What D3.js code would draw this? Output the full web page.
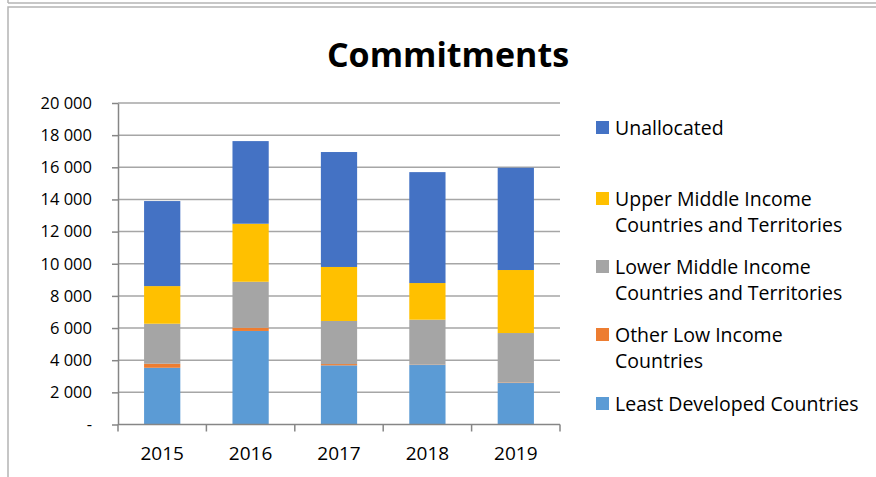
<!DOCTYPE html>
<html>
<head>
<meta charset="utf-8">
<script src="https://cdn.jsdelivr.net/npm/d3@7"></script>
<style>
    body { margin: 0; background: #fff; }
    svg { display: block; font-family: "Open Sans", sans-serif; }
</style>
</head>
<body>
<div id="chart"></div>
<script>
// chart data
const years = ['2015', '2016', '2017', '2018', '2019'];
const seriesNames = [
    'Least Developed Countries',
    'Other Low Income Countries',
    'Lower Middle Income Countries and Territories',
    'Upper Middle Income Countries and Territories',
    'Unallocated'
];
const leastDeveloped = [3530, 5820, 3680, 3700, 2580];
const otherLowIncome = [250, 200, 80, 20, 30];
const lowerMiddle = [2490, 2860, 2680, 2800, 3080];
const upperMiddle = [2340, 3610, 3360, 2280, 3920];
const unallocated = [5290, 5140, 7150, 6900, 6360];
const yTickValues = [0, 2000, 4000, 6000, 8000, 10000, 12000, 14000, 16000, 18000, 20000];
const yTickLabels = ['-', '2 000', '4 000', '6 000', '8 000', '10 000', '12 000', '14 000', '16 000', '18 000', '20 000'];

const colors = ['#5B9BD5', '#ED7D31', '#A5A5A5', '#FFC000', '#4472C4'];

const width = 876, height = 477;
const margin = { top: 103, right: 316, bottom: 52.5, left: 118 };
const drawWidth = width - margin.left - margin.right;
const drawHeight = height - margin.top - margin.bottom;

const svg = d3.select('#chart').append('svg')
    .attr('width', width)
    .attr('height', height);

// outer frame (chart sits inside a bordered box)
svg.append('line')
    .attr('x1', 8).attr('x2', width).attr('y1', 3).attr('y2', 3)
    .attr('stroke', '#b4b4b4').attr('stroke-width', 1.5);
svg.append('line')
    .attr('x1', 8).attr('x2', 8).attr('y1', 0).attr('y2', 3)
    .attr('stroke', '#b4b4b4').attr('stroke-width', 1.5);
svg.append('rect')
    .attr('x', 8).attr('y', 7)
    .attr('width', width).attr('height', height)
    .attr('fill', 'none').attr('stroke', '#b4b4b4').attr('stroke-width', 1.5);

svg.append('text')
    .attr('x', 448).attr('y', 67)
    .attr('text-anchor', 'middle')
    .attr('font-weight', 'bold')
    .attr('font-size', 34)
    .attr('fill', '#000')
    .text('Commitments');

const rows = years.map((yr, i) => ({
    year: yr,
    s0: leastDeveloped[i],
    s1: otherLowIncome[i],
    s2: lowerMiddle[i],
    s3: upperMiddle[i],
    s4: unallocated[i]
}));
const keys = ['s0', 's1', 's2', 's3', 's4'];
const stacked = d3.stack().keys(keys)(rows);

const x = d3.scaleBand().domain(years).range([0, drawWidth]).paddingInner(0).paddingOuter(0);
const y = d3.scaleLinear().domain([0, 20000]).range([drawHeight, 0]);

const g = svg.append('g')
    .attr('transform', `translate(${margin.left},${margin.top})`);

// gridlines
g.append('g')
    .selectAll('line')
    .data(yTickValues.filter(d => d > 0))
    .join('line')
    .attr('x1', 0).attr('x2', drawWidth)
    .attr('y1', d => y(d)).attr('y2', d => y(d))
    .attr('stroke', '#a6a6a6').attr('stroke-width', 1.5);

// bars
const barWidth = x.bandwidth() * 0.41;
g.append('g')
    .selectAll('g')
    .data(stacked)
    .join('g')
    .attr('fill', (d, i) => colors[i])
    .selectAll('rect')
    .data(d => d)
    .join('rect')
    .attr('x', d => x(d.data.year) + (x.bandwidth() - barWidth) / 2)
    .attr('width', barWidth)
    .attr('y', d => y(d[1]))
    .attr('height', d => y(d[0]) - y(d[1]));

// y axis
const yAxis = d3.axisLeft(y)
    .tickValues(yTickValues)
    .tickFormat((d, i) => yTickLabels[i])
    .tickSizeInner(6)
    .tickSizeOuter(0)
    .tickPadding(20);
const yAxisG = g.append('g').call(yAxis);
yAxisG.select('.domain').attr('stroke', '#868686').attr('stroke-width', 1.5);
yAxisG.selectAll('.tick line').attr('stroke', '#868686').attr('stroke-width', 1.5);
yAxisG.selectAll('.tick text')
    .attr('font-family', '"Open Sans", sans-serif')
    .attr('font-size', 16.5)
    .attr('fill', '#000');

// x axis: labels centred, ticks on category boundaries
const xAxis = d3.axisBottom(x).tickSize(0).tickPadding(22);
const xAxisG = g.append('g')
    .attr('transform', `translate(0,${drawHeight})`)
    .call(xAxis);
xAxisG.select('.domain').remove();
xAxisG.selectAll('.tick text')
    .attr('font-family', '"Open Sans", sans-serif')
    .attr('font-size', 19)
    .attr('fill', '#000');
g.append('line')
    .attr('x1', 0).attr('x2', drawWidth)
    .attr('y1', drawHeight).attr('y2', drawHeight)
    .attr('stroke', '#868686').attr('stroke-width', 1.5);
g.append('g')
    .selectAll('line')
    .data(years.map(d => x(d)).concat([drawWidth]))
    .join('line')
    .attr('x1', d => d).attr('x2', d => d)
    .attr('y1', drawHeight).attr('y2', drawHeight + 7)
    .attr('stroke', '#868686').attr('stroke-width', 1.5);

// legend (top entry first, as Excel draws it)
const legendLines = [
    ['Unallocated'],
    ['Upper Middle Income', 'Countries and Territories'],
    ['Lower Middle Income', 'Countries and Territories'],
    ['Other Low Income', 'Countries'],
    ['Least Developed Countries']
];
const legendColors = colors.slice().reverse();
const legendY = [128, 199, 267, 335, 404];
const lineGap = 26;
const legend = svg.append('g');
legendLines.forEach((lines, i) => {
    const item = legend.append('g');
    item.append('rect')
        .attr('x', 596).attr('y', legendY[i] - 7)
        .attr('width', 13).attr('height', 13)
        .attr('fill', legendColors[i]);
    item.selectAll('text')
        .data(lines)
        .join('text')
        .attr('x', 615)
        .attr('y', (d, j) => legendY[i] + j * lineGap)
        .attr('dy', '0.35em')
        .attr('font-size', 19.5)
        .attr('fill', '#000')
        .text(d => d);
});
</script>
</body>
</html>
